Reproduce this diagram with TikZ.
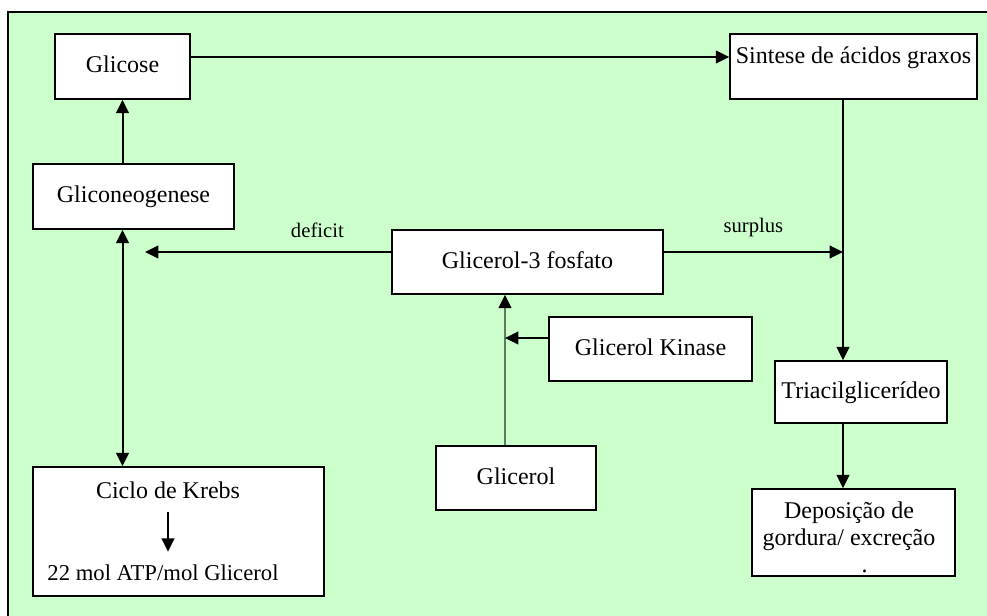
\documentclass[tikz,border=0pt]{standalone}
\usepackage{fontspec}
\setmainfont{Liberation Serif}
\usetikzlibrary{arrows.meta}
\definecolor{panelgreen}{RGB}{204,255,204}
\definecolor{stemgray}{RGB}{96,124,96}
\begin{document}
\begin{tikzpicture}[x=0.75pt,y=-0.75pt,
  >={Triangle[length=10pt,width=9.5pt]},
  frame/.style={draw, fill=white, line width=1.1pt, inner sep=0pt},
  box/.style={frame, font=\fontsize{18}{20.25}\selectfont, text height=13pt, text depth=4pt},
  txt/.style={inner sep=0pt, font=\fontsize{18}{20.25}\selectfont, text height=13pt, text depth=4pt},
  lbl/.style={font=\fontsize{15.5}{18}\selectfont},
  conn/.style={line width=1.5pt},
  stem/.style={conn, draw=stemgray, -{Triangle[length=10pt,width=9.5pt,color=black]}}]
\useasboundingbox (0,0) rectangle (987,616);
\draw[fill=panelgreen, line width=1pt] (8,12) rectangle (1000,630);
% boxes
\node[box, minimum width=101.25pt, minimum height=48.75pt] (glicose) at (122.5,66.5) {Glicose};
\node[box, minimum width=185.25pt, minimum height=48.75pt, text depth=17pt] (sintese) at (853.5,66.5) {Sintese de ácidos graxos};
\node[box, minimum width=150.75pt, minimum height=48.75pt] (gliconeo) at (133.5,196.5) {Gliconeogenese};
\node[box, minimum width=203.25pt, minimum height=48pt] (g3p) at (527.5,262) {Glicerol-3 fosfato};
\node[box, minimum width=152.25pt, minimum height=48pt] (kinase) at (650.5,349) {Glicerol Kinase};
\node[box, minimum width=120pt, minimum height=48pt] (glicerol) at (516,478) {Glicerol};
\node[box, minimum width=129pt, minimum height=46.5pt] (triacil) at (861,392) {Triacilglicerídeo};
\node[frame, minimum width=152.25pt, minimum height=65.25pt] (depos) at (853.5,532.5) {};
\node[txt, align=center, text height=, text depth=, anchor=north] (deposTxt) at (849,502) {Deposição de\\gordura/ excreção\\\hspace*{1.3em}.};
\node[frame, minimum width=218.25pt, minimum height=96.75pt] (krebs) at (178.5,531.5) {};
\node[txt] (krebsTop) at (168,492) {Ciclo de Krebs};
\node[txt, font=\fontsize{17}{20}\selectfont] (atp) at (163,574) {22 mol ATP/mol Glicerol};
% join points
\coordinate (deficitend) at (145,252);
\coordinate (surplusend) at (843,252);
\coordinate (kinasejoin) at (505,338);
% connectors
\draw[conn,->] ([yshift=7.1pt]glicose.east) -- ([yshift=7.1pt]sintese.west);
\draw[conn,->] (gliconeo.north -| glicose) -- (glicose.south);
\draw[conn,<->] (gliconeo.south -| glicose) -- (krebs.north -| glicose);
\draw[conn,->] (g3p.west |- deficitend) -- (deficitend) node[lbl, pos=0.3, above=7pt] {deficit};
\draw[conn,->] (g3p.east |- surplusend) -- (surplusend) node[lbl, midway, above=7pt] {surplus};
\draw[conn,->] (sintese.south -| surplusend) -- (triacil.north -| surplusend);
\draw[conn,->] (triacil.south -| surplusend) -- (depos.north -| surplusend);
\draw[stem] (glicerol.north -| kinasejoin) -- (g3p.south -| kinasejoin);
\draw[conn,->] (kinase.west |- kinasejoin) -- (kinasejoin);
\draw[conn,->, shorten <=6pt, shorten >=8pt] (krebsTop) -- (krebsTop |- atp.north);
\end{tikzpicture}
\end{document}
